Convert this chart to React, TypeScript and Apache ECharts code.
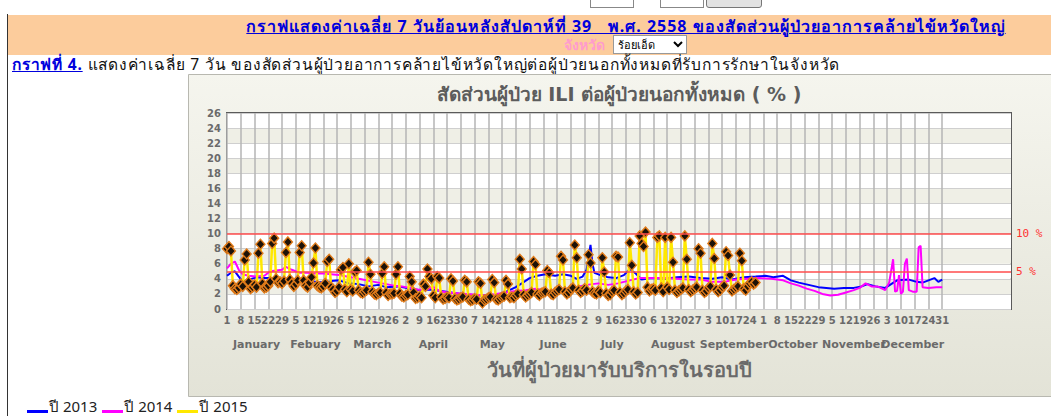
import React, { useEffect, useRef } from "react";
import * as echarts from "echarts";

const MONTHS = ["January", "Febuary", "March", "April", "May", "June", "July", "August", "September", "October", "November", "December"];
const MONTH_DAYS = [31, 28, 31, 30, 31, 30, 31, 31, 30, 31, 30, 31];
const TRAILING_EMPTY_DAYS = 35;
const Y_MAX = 26;
const Y_STEP = 2;
const ALERT_LEVELS = [10, 5];
const SERIES_NAMES = ["ปี 2013", "ปี 2014", "ปี 2015"];
const SERIES_COLORS = ["#0000ff", "#ff00ff", "#ffe800"];

// [day of year, % ILI]
const ILI_2013: [number, number][] = [
  [1, 4.4], [3, 4.8], [5, 5.0], [7, 4.3], [9, 3.6], [12, 3.9], [16, 4.2], [20, 4.1], [25, 4.1], [28, 3.9],
  [32, 3.8], [38, 3.8], [42, 3.7], [46, 3.6], [50, 3.5], [54, 3.7], [58, 3.8], [63, 3.4], [68, 3.3], [73, 3.0],
  [78, 3.2], [82, 2.9], [88, 3.0], [92, 2.8], [96, 2.6], [100, 2.5], [105, 2.6], [110, 2.4], [115, 2.2], [120, 2.0],
  [125, 1.9], [130, 1.8], [135, 1.8], [140, 2.0], [144, 2.4], [148, 2.9], [151, 3.4], [155, 4.1], [159, 4.4], [163, 4.6],
  [168, 4.4], [172, 4.6], [176, 4.4], [179, 4.0], [182, 4.3], [184, 5.2], [186, 8.5], [187, 6.0], [188, 4.8], [191, 4.5],
  [195, 4.2], [199, 4.1], [203, 4.5], [206, 5.3], [209, 4.7], [212, 3.9], [217, 4.1], [224, 4.0], [230, 4.2], [236, 4.3],
  [242, 4.1], [248, 4.0], [253, 4.2], [258, 3.9], [264, 4.2], [270, 4.3], [275, 4.4], [279, 4.2], [284, 4.4], [288, 3.8],
  [292, 3.5], [297, 3.2], [302, 2.9], [306, 2.8], [310, 2.7], [315, 2.8], [320, 2.8], [324, 3.0], [327, 3.3], [331, 3.0],
  [336, 2.8], [339, 3.3], [342, 3.8], [348, 3.9], [352, 3.6], [355, 3.5], [358, 3.8], [361, 4.1], [363, 3.6], [365, 3.9],
];

const ILI_2014: [number, number][] = [
  [1, 5.4], [3, 6.0], [5, 6.3], [7, 5.2], [9, 4.6], [12, 4.4], [16, 4.3], [20, 4.4], [23, 5.0], [26, 5.1],
  [29, 5.2], [31, 5.6], [34, 5.2], [38, 4.8], [42, 4.8], [46, 4.7], [50, 4.7], [54, 4.6], [58, 4.5], [62, 4.3],
  [66, 4.1], [70, 3.9], [74, 3.7], [78, 3.5], [82, 3.3], [86, 3.1], [90, 3.0], [94, 2.8], [98, 2.6], [102, 2.5],
  [106, 2.9], [109, 2.4], [113, 2.2], [118, 2.1], [123, 2.0], [128, 1.9], [133, 1.8], [138, 2.0], [143, 2.2], [148, 2.4],
  [153, 2.5], [158, 2.7], [163, 2.5], [168, 2.3], [173, 2.3], [177, 2.5], [180, 3.0], [184, 3.2], [190, 3.4], [195, 3.2],
  [200, 3.4], [206, 3.8], [211, 4.1], [218, 4.1], [224, 4.1], [230, 4.0], [236, 3.9], [242, 3.9], [248, 3.6], [254, 3.6],
  [260, 3.9], [266, 4.0], [272, 4.1], [278, 4.0], [284, 3.8], [288, 3.4], [292, 3.1], [296, 2.7], [300, 2.4], [304, 2.0],
  [308, 1.8], [312, 1.9], [316, 2.2], [320, 2.5], [323, 2.8], [326, 3.4], [329, 3.0], [332, 3.0], [336, 2.5], [338, 3.5],
  [340, 6.6], [341, 2.3], [342, 2.4], [343, 4.5], [344, 2.0], [345, 2.3], [346, 6.0], [347, 6.7], [348, 2.5], [350, 2.3],
  [352, 2.3], [353, 8.2], [354, 8.4], [355, 2.9], [358, 2.8], [362, 2.9], [365, 2.9],
];

// daily values from 1 January (Thu) to 27 September
const ILI_2015: number[] = [
  8.0, 8.3, 7.7, 3.1, 2.7, 2.6, 2.8,
  3.3, 3.0, 6.5, 7.3, 3.6, 2.7, 2.9,
  3.2, 2.9, 7.4, 8.6, 3.4, 2.8, 2.9,
  3.1, 3.6, 8.7, 9.4, 4.0, 3.5, 3.6,
  3.4, 3.7, 7.5, 8.9, 3.9, 3.4, 3.0,
  3.3, 3.8, 7.5, 8.4, 3.8, 3.1, 2.9,
  3.5, 4.2, 6.1, 8.1, 3.1, 2.9, 2.8,
  3.0, 3.4, 6.3, 6.6, 2.9, 2.6, 2.2,
  2.4, 2.9, 5.2, 5.5, 2.6, 2.3, 6.0,
  2.6, 2.4, 4.9, 5.1, 2.5, 2.2, 2.1,
  2.3, 2.5, 6.2, 4.6, 2.3, 2.0, 1.9,
  2.1, 2.2, 4.7, 5.6, 2.2, 1.8, 2.0,
  2.0, 2.1, 4.6, 5.6, 2.1, 1.7, 1.6,
  1.8, 1.9, 4.3, 3.6, 2.2, 1.4, 1.5,
  1.7, 1.5, 3.3, 3.0, 5.3, 4.3, 4.0,
  1.8, 1.5, 4.3, 4.1, 1.6, 1.3, 1.4,
  1.6, 1.5, 4.0, 3.7, 1.4, 1.2, 1.3,
  1.5, 1.6, 3.8, 3.6, 1.3, 1.1, 1.2,
  1.4, 1.3, 3.6, 3.4, 0.8, 1.2, 1.3,
  1.5, 1.6, 3.9, 3.5, 1.3, 1.2, 1.4,
  1.6, 1.7, 3.8, 3.3, 1.5, 1.6, 1.5,
  1.8, 2.0, 6.6, 5.3, 1.9, 1.6, 1.8,
  2.0, 2.2, 6.3, 5.9, 2.0, 1.8, 2.1,
  2.2, 2.3, 5.1, 4.8, 2.0, 1.9, 2.2,
  2.4, 2.6, 7.0, 6.5, 2.3, 2.0, 2.2,
  2.6, 2.8, 8.5, 6.8, 2.5, 2.2, 2.4,
  2.7, 2.5, 7.2, 6.1, 2.3, 2.1, 2.0,
  2.4, 2.2, 6.8, 4.9, 2.1, 1.8, 1.9,
  2.3, 2.5, 7.0, 6.9, 2.2, 1.9, 2.1,
  2.4, 2.6, 8.8, 5.8, 2.3, 2.0, 2.2,
  9.7, 8.7, 8.3, 10.2, 2.9, 2.4, 2.6,
  2.7, 2.5, 9.5, 9.7, 2.8, 2.3, 9.5,
  2.9, 2.6, 9.5, 6.2, 2.5, 2.2, 2.4,
  2.6, 2.8, 9.7, 6.6, 2.6, 2.3, 2.5,
  2.7, 2.9, 8.0, 7.4, 2.5, 2.2, 2.4,
  2.8, 3.0, 8.7, 6.7, 2.6, 2.3, 2.5,
  2.9, 3.1, 7.6, 7.1, 4.5, 2.4, 2.6,
  2.8, 3.0, 7.4, 6.4, 2.7, 2.5, 3.0,
  3.4, 3.6, 3.3, 3.5,
];

const TITLE = "สัดส่วนผู้ป่วย ILI ต่อผู้ป่วยนอกทั้งหมด ( % )";
const X_NAME = "วันที่ผู้ป่วยมารับบริการในรอบปี";

// derived category axis (one category per day)
const CATEGORIES: string[] = [];
const DAY_OF_MONTH: string[] = [];
const MONTH_MID: Record<number, { name: string; order: number }> = {};
{
  let start = 0;
  MONTHS.forEach((m, mi) => {
    const len = MONTH_DAYS[mi];
    MONTH_MID[Math.round(start + (len - 1) / 2)] = { name: m, order: mi };
    for (let d = 1; d <= len; d++) {
      CATEGORIES.push(`${d} ${m}`);
      DAY_OF_MONTH.push(String(d));
    }
    start += len;
  });
  for (let i = 0; i < TRAILING_EMPTY_DAYS; i++) {
    CATEGORIES.push(`+${i + 1}`);
    DAY_OF_MONTH.push("");
  }
}
const LAST_DAY_INDEX = MONTH_DAYS.reduce((a, b) => a + b, 0) - 1;
const weekTick = (i: number) => i % 7 === 0 && i <= LAST_DAY_INDEX;

const CHART_FONT = "'DejaVu Sans', Verdana, sans-serif";
const GRAY = "#6a6a6a";

// month names alternate between two label rows at the same place so that neighbours may overlap
const monthAxis = (parity: number) => ({
  type: "category",
  data: CATEGORIES,
  boundaryGap: false,
  position: "bottom",
  offset: 22,
  axisLine: { show: false },
  axisTick: { show: false },
  splitLine: { show: false },
  axisLabel: {
    interval: (i: number) => MONTH_MID[i] !== undefined && MONTH_MID[i].order % 2 === parity,
    formatter: (_v: string, i: number) => (MONTH_MID[i] ? MONTH_MID[i].name : ""),
    fontSize: 11,
    fontWeight: "bold",
    color: GRAY,
    margin: 8,
    hideOverlap: false,
  },
});

export default function App() {
  const ref = useRef<HTMLDivElement>(null);

  useEffect(() => {
    if (!ref.current) return;
    const chart = echarts.init(ref.current, undefined, { renderer: "svg" });
    chart.setOption({
      animation: false,
      textStyle: { fontFamily: CHART_FONT },
      title: {
        text: TITLE,
        left: 619,
        top: 84,
        textAlign: "center",
        padding: 0,
        textStyle: { fontSize: 19, fontWeight: "bold", color: "#5c5c5c", fontFamily: CHART_FONT },
      },
      graphic: [
        {
          type: "rect",
          z: -10,
          silent: true,
          shape: { x: 188.5, y: 74.5, width: 900, height: 322 },
          style: {
            fill: new echarts.graphic.LinearGradient(0, 0, 0, 1, [
              { offset: 0, color: "#f5f5ee" },
              { offset: 1, color: "#e3e3d7" },
            ]),
            stroke: "#b8b8b0",
            lineWidth: 1,
          },
        },
      ],
      grid: {
        left: 227,
        top: 113,
        width: 784,
        height: 196,
        show: true,
        backgroundColor: "#ffffff",
        borderColor: "#5a5a5a",
        borderWidth: 2,
      },
      xAxis: [
        {
          type: "category",
          data: CATEGORIES,
          boundaryGap: false,
          axisLine: { show: false },
          axisTick: { show: false },
          axisLabel: {
            interval: (i: number) => weekTick(i),
            formatter: (_v: string, i: number) => DAY_OF_MONTH[i],
            fontSize: 10,
            fontWeight: "bold",
            color: GRAY,
            margin: 6,
            hideOverlap: false,
          },
          splitLine: { show: true, interval: (i: number) => weekTick(i), lineStyle: { color: "#b5b5b5", width: 1.5 } },
          name: X_NAME,
          nameLocation: "middle",
          nameGap: 51,
          nameTextStyle: { fontSize: 20, fontWeight: "bold", color: GRAY, fontFamily: CHART_FONT },
        },
        monthAxis(0),
        monthAxis(1),
      ],
      yAxis: {
        type: "value",
        min: 0,
        max: Y_MAX,
        interval: Y_STEP,
        axisLine: { show: false },
        axisTick: { show: false },
        axisLabel: { fontSize: 10, fontWeight: "bold", color: GRAY, margin: 6 },
        splitLine: { lineStyle: { color: "#cfcfcf", width: 1 } },
        splitArea: { show: true, areaStyle: { color: ["#ffffff", "#efefe6"] } },
      },
      series: [
        {
          name: SERIES_NAMES[0],
          type: "line",
          data: ILI_2013.map(([d, v]) => [d - 1, v]),
          showSymbol: false,
          symbol: "none",
          lineStyle: { color: SERIES_COLORS[0], width: 2 },
          itemStyle: { color: SERIES_COLORS[0] },
          markLine: {
            silent: true,
            symbol: "none",
            lineStyle: { color: "#ff4d4d", width: 1.5, type: "solid" },
            label: {
              position: "end",
              formatter: (p: any) => `${p.value} %`,
              color: "#ff3030",
              fontSize: 11,
              fontFamily: "'DejaVu Sans Mono', monospace",
            },
            data: ALERT_LEVELS.map((v) => ({ yAxis: v })),
          },
        },
        {
          name: SERIES_NAMES[1],
          type: "line",
          data: ILI_2014.map(([d, v]) => [d - 1, v]),
          showSymbol: false,
          symbol: "none",
          lineStyle: { color: SERIES_COLORS[1], width: 2 },
          itemStyle: { color: SERIES_COLORS[1] },
        },
        {
          name: SERIES_NAMES[2],
          type: "line",
          data: ILI_2015.map((v, i) => [i, v]),
          symbol: "diamond",
          symbolSize: [9, 10],
          showSymbol: true,
          showAllSymbol: true,
          lineStyle: { color: SERIES_COLORS[2], width: 2.5 },
          itemStyle: { color: "#1c1208", borderColor: "#e07b1a", borderWidth: 1.4 },
        },
      ],
    });
    return () => chart.dispose();
  }, []);

  const thaiFont = "'Noto Sans', 'DejaVu Sans', sans-serif";
  return (
    <div style={{ position: "absolute", left: 0, top: 0, width: 1051, height: 416, overflow: "hidden", background: "#fff", fontFamily: thaiFont }}>
      {/* cut-off form row at the very top */}
      <div style={{ position: "absolute", left: 590, top: -12, width: 42, height: 18, border: "1px solid #888", background: "#fff" }} />
      <div style={{ position: "absolute", left: 660, top: -12, width: 42, height: 18, border: "1px solid #888", background: "#fff" }} />
      <div style={{ position: "absolute", left: 706, top: -12, width: 54, height: 18, border: "1px solid #777", borderRadius: 3, background: "#e2e2e2" }} />
      {/* left table border */}
      <div style={{ position: "absolute", left: 7, top: 14, width: 1, height: 402, background: "#333" }} />
      {/* banner */}
      <div style={{ position: "absolute", left: 8, top: 15, width: 1043, height: 40, background: "#fccc9c" }} />
      <div style={{ position: "absolute", left: 626, top: 14, transform: "translateX(-50%)", whiteSpace: "nowrap", fontSize: 16, letterSpacing: 1, fontWeight: "bold", color: "#0000dd", textDecoration: "underline" }}>
        กราฟแสดงค่าเฉลี่ย 7 วันย้อนหลังสัปดาห์ที่ 39&nbsp;&nbsp; พ.ศ. 2558 ของสัดส่วนผู้ป่วยอาการคล้ายไข้หวัดใหญ่
      </div>
      <div style={{ position: "absolute", left: 584, top: 34, transform: "translateX(-50%)", whiteSpace: "nowrap", fontSize: 14, fontWeight: "bold", color: "#ff9ccc" }}>
        จังหวัด
      </div>
      <select
        defaultValue="ร้อยเอ็ด"
        style={{ position: "absolute", left: 613, top: 35, width: 74, height: 19, fontSize: 11, padding: 0, border: "1px solid #999", background: "#fff", fontFamily: thaiFont }}
      >
        <option value="ร้อยเอ็ด">ร้อยเอ็ด</option>
      </select>
      {/* graph caption */}
      <div style={{ position: "absolute", left: 12, top: 52, whiteSpace: "nowrap", fontSize: 15.5, letterSpacing: 0.8, color: "#111" }}>
        <span style={{ fontWeight: "bold", color: "#0000dd", textDecoration: "underline" }}>กราฟที่ 4.</span>{" "}
        แสดงค่าเฉลี่ย 7 วัน ของสัดส่วนผู้ป่วยอาการคล้ายไข้หวัดใหญ่ต่อผู้ป่วยนอกทั้งหมดที่รับการรักษาในจังหวัด
      </div>
      <div ref={ref} style={{ position: "absolute", left: 0, top: 0, width: 1051, height: 416 }} />
      {/* legend */}
      <div style={{ position: "absolute", left: 27, top: 399, whiteSpace: "nowrap", fontSize: 15, lineHeight: "15px", color: "#222" }}>
        {SERIES_NAMES.map((n, i) => (
          <span key={n} style={{ marginRight: 5 }}>
            <span style={{ display: "inline-block", width: 21, height: 3, background: SERIES_COLORS[i], verticalAlign: "-1px", marginRight: 1 }} />
            {n}
          </span>
        ))}
      </div>
    </div>
  );
}
